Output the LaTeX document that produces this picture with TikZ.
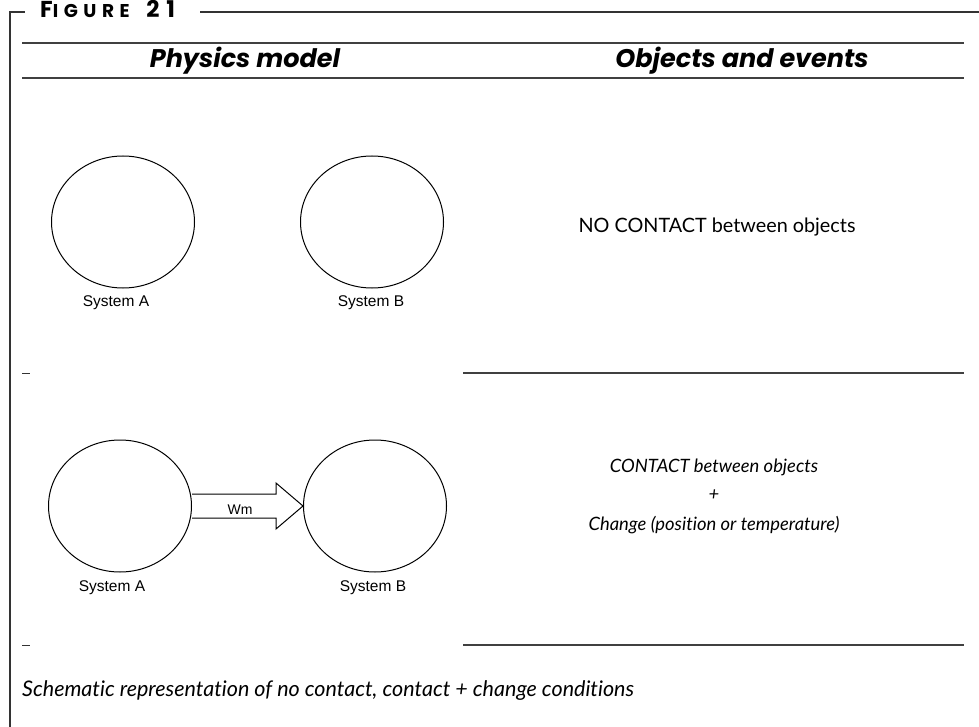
\documentclass[tikz,border=0pt]{standalone}
\usepackage{fontspec}
\setmainfont{Lato}[Ligatures={NoCommon}]
\newfontfamily\arial{Liberation Sans}
\newfontfamily\headfont{Poppins}
\usetikzlibrary{shapes.geometric,calc}
\begin{document}
\begin{tikzpicture}[x=1pt,y=-1pt,
  frame/.style={line width=1.3pt,draw=black!80},
  rule/.style={line width=1.4pt,draw=black!75},
  sys/.style={ellipse,draw,line width=1pt,minimum width=143pt,minimum height=132pt,inner sep=0pt},
  syslabel/.style={font=\arial\fontsize{15.5}{18}\selectfont,inner sep=0pt},
  head/.style={font=\headfont\bfseries\itshape\fontsize{25.5}{30}\selectfont,inner sep=0pt},
  body/.style={font=\fontsize{19.8}{23}\selectfont,inner sep=0pt},
  bodyit/.style={font=\itshape\fontsize{18.4}{22}\selectfont,inner sep=0pt},
  tick/.style={line width=0.9pt,draw=black!80}]
\useasboundingbox (0,0) rectangle (979,727);

% frame and title
\node[anchor=base west,inner sep=0pt,font=\headfont\bfseries\fontsize{23}{26}\selectfont\addfontfeature{LetterSpace=30}]
  (title) at (40,18) {F{\fontsize{18.5}{20}\selectfont IGURE}\hspace{5pt} 21};
\coordinate (c0) at (10,727);
\coordinate (c1) at (10,12);
\coordinate (c2) at (25,12);
\coordinate (c3) at (200,12);
\coordinate (c4) at (979,12);
\draw[frame] (c0) -- (c1) -- (c2);
\draw[frame] (c3) -- (c4);

% column headers
\coordinate (h1) at (22,43);  \coordinate (h2) at (964,43);
\coordinate (h3) at (22,78);  \coordinate (h4) at (964,78);
\draw[rule] (h1) -- (h2);
\draw[rule] (h3) -- (h4);
\node[head] (phys) at (245,61) {Physics model};
\node[head] (obj) at (742,61) {Objects and events};

% row 1: no contact
\node[sys] (A1) at (123,222) {};
\node[sys] (B1) at (372,222) {};
\node[syslabel] (la1) at (116,303) {System A};
\node[syslabel] (lb1) at (371,303) {System B};
\node[body] (t1) at (717,227) {NO CONTACT between objects};
\coordinate (d1a) at (22,373); \coordinate (d1b) at (30,373);
\draw[tick] (d1a) -- (d1b);
\coordinate (r1a) at (463,373); \coordinate (r1b) at (964,373);
\draw[rule] (r1a) -- (r1b);

% row 2: contact + change
\node[sys] (A2) at (120,506) {};
\node[sys] (B2) at (375,506) {};
\node[syslabel] (la2) at (112,588) {System A};
\node[syslabel] (lb2) at (373,588) {System B};
\draw[line width=1pt,line join=miter]
  ($(A2.east)+(0,-12)$) -- ($(B2.west)+(-27,-12)$) -- ($(B2.west)+(-27,-23)$)
  -- (B2.west) -- ($(B2.west)+(-27,23)$) -- ($(B2.west)+(-27,12)$)
  -- ($(A2.east)+(0,12)$);
\node[font=\arial\fontsize{14}{16}\selectfont,inner sep=0pt] (wm) at (240,510) {Wm};
\node[bodyit] (t2a) at (714,467) {CONTACT between objects};
\node[bodyit] (t2b) at (714,495) {+};
\node[bodyit] (t2c) at (714,525) {Change (position or temperature)};
\coordinate (d2a) at (22,645); \coordinate (d2b) at (30,645);
\draw[tick] (d2a) -- (d2b);
\coordinate (r2a) at (463,645); \coordinate (r2b) at (964,645);
\draw[rule] (r2a) -- (r2b);

% caption
\node[font=\itshape\fontsize{21.5}{24}\selectfont,inner sep=0pt,anchor=west] (cap) at (22,691)
  {Schematic representation of no contact, contact + change conditions};
\end{tikzpicture}
\end{document}
